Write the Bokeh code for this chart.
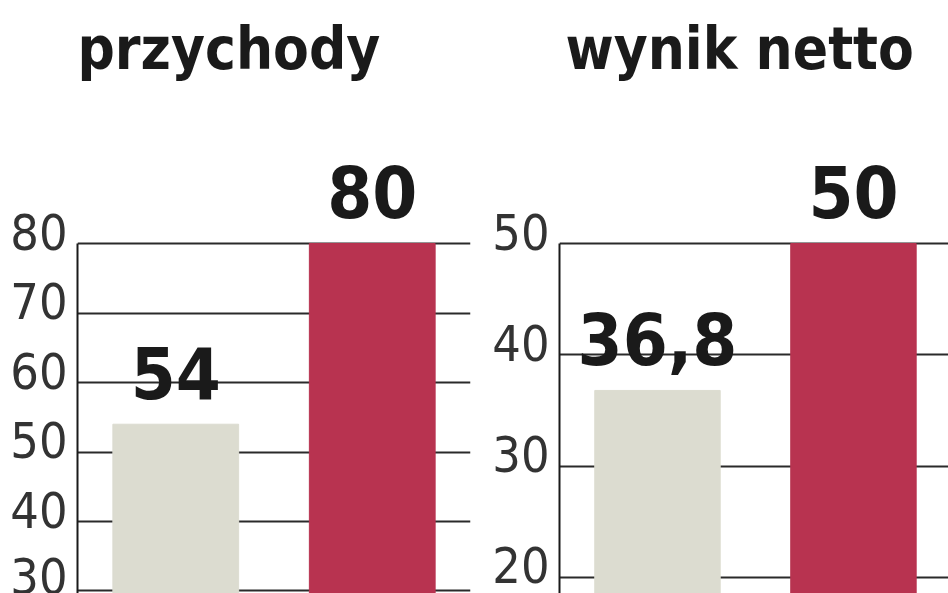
from bokeh.plotting import figure
from bokeh.layouts import row
from bokeh.models import ColumnDataSource, Range1d, FixedTicker, Title, CustomJSTickFormatter
from bokeh.core.properties import value
from bokeh.embed import file_html
from bokeh.resources import INLINE

# two periods shown in each panel (no category labels in the original)
periods = ["poprzednio", "teraz"]
bar_colors = ["#dcdcd0", "#b83350"]

przychody = [54, 80]
przychody_ticks = [30, 40, 50, 60, 70, 80]

wynik_netto = [36.8, 50]
wynik_ticks = [20, 30, 40, 50]

FONT = "DejaVu Sans Condensed"


def fmt(v):
    return ("%g" % v).replace(".", ",")


def panel(title, values, ticks, width, y_range, px_per_unit, x_end, border_left, border_right, title_offset):
    p = figure(width=width, height=593, output_backend="svg", toolbar_location=None,
               x_range=Range1d(0, x_end), y_range=Range1d(*y_range),
               x_axis_location=None, min_border_left=border_left, min_border_right=border_right,
               min_border_top=87, min_border_bottom=0, outline_line_color=None)
    p.title = Title(text=title, align="left", offset=title_offset, text_font=FONT,
                    text_font_style="bold", text_font_size="58px", text_color="#1a1a1a")

    src = ColumnDataSource(dict(
        x=[i + 0.5 for i in range(len(periods))],
        top=values,
        color=bar_colors,
        label=[fmt(v) for v in values],
    ))

    # labels sit a little above their grid lines, as in the printed chart
    shift = 12 / px_per_unit
    p.yaxis.ticker = FixedTicker(ticks=[t + shift for t in ticks])
    p.yaxis.formatter = CustomJSTickFormatter(args=dict(shift=shift),
                                              code="return Math.round(tick - shift).toString()")
    p.yaxis.bounds = (y_range[0], max(ticks))
    p.yaxis.axis_line_color = "#1a1a1a"
    p.yaxis.axis_line_width = 2
    p.yaxis.major_tick_line_color = None
    p.yaxis.minor_tick_line_color = None
    p.yaxis.major_tick_out = 0
    p.yaxis.major_tick_in = 0
    p.yaxis.major_label_standoff = 10
    p.yaxis.major_label_text_font = FONT
    p.yaxis.major_label_text_font_size = "50px"
    p.yaxis.major_label_text_color = "#333333"

    p.xgrid.visible = False
    p.ygrid.ticker = FixedTicker(ticks=ticks)
    p.ygrid.grid_line_color = "#2a2a2a"
    p.ygrid.grid_line_width = 2

    p.vbar(x="x", top="top", bottom=y_range[0], width=0.64, color="color", source=src)
    p.text(x="x", y="top", text="label", source=src, text_align="center",
           text_baseline="alphabetic", y_offset=-52, text_font=value(FONT),
           text_font_style="bold", text_font_size="72px", text_color="#1a1a1a")
    return p


left = panel("przychody", przychody, przychody_ticks, 480, (29.64, 102.45), 6.95, 2.0, 77, 10, 0)
right = panel("wynik netto", wynik_netto, wynik_ticks, 468, (18.555, 64.02), 11.13, 1.985, 79, 0, 6)

layout = row(left, right, spacing=0)
open("out.html", "w").write(file_html(layout, INLINE))
